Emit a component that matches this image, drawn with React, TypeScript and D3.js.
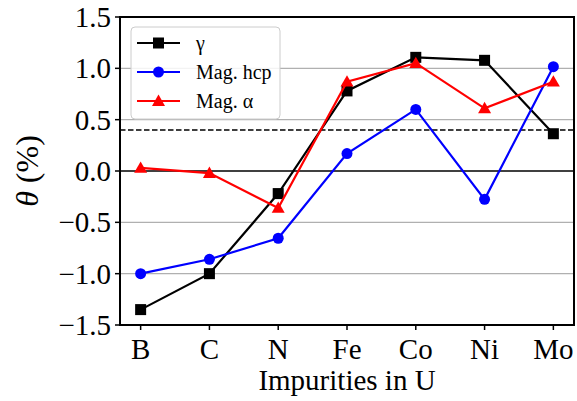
import React from "react";
import * as d3 from "d3";

const categories = ["B", "C", "N", "Fe", "Co", "Ni", "Mo"];
const gammaVals = [-1.35, -1.0, -0.22, 0.78, 1.107, 1.078, 0.363];
const hcpVals = [-1.0, -0.86, -0.655, 0.17, 0.6, -0.276, 1.016];
const alphaVals = [0.03, -0.02, -0.36, 0.87, 1.05, 0.61, 0.87];
const yTicks = [-1.5, -1.0, -0.5, 0.0, 0.5, 1.0, 1.5];
const refLine = 0.4;

const series = [
  { name: "γ", values: gammaVals, color: "#000000", marker: "square" },
  { name: "Mag. hcp", values: hcpVals, color: "#0000ff", marker: "circle" },
  { name: "Mag. α", values: alphaVals, color: "#ff0000", marker: "triangle" },
];

const W = 577;
const H = 401;
const m = { left: 120, right: 3, top: 17, bottom: 76 };
const font = "'Liberation Serif', 'Times New Roman', serif";

const Marker = ({ type, x, y, color }) => {
  if (type === "square") return <rect x={x - 5.5} y={y - 5.5} width={11} height={11} fill={color} />;
  if (type === "circle") return <circle cx={x} cy={y} r={5.5} fill={color} />;
  const s = 6.5;
  return <path d={`M${x},${y - s} L${x + s},${y + s * 0.75} L${x - s},${y + s * 0.75} Z`} fill={color} />;
};

const fmt = (v) => (v < 0 ? "\u2212" : "") + Math.abs(v).toFixed(1);

export default function App() {
  const x = d3.scaleLinear().domain([-0.3, categories.length - 0.7]).range([m.left, W - m.right]);
  const y = d3.scaleLinear().domain([-1.5, 1.5]).range([H - m.bottom, m.top]);
  const x0 = m.left, x1 = W - m.right, y0 = m.top, y1 = H - m.bottom;

  const line = d3.line().x((d, i) => x(i)).y((d) => y(d));

  return (
    <svg width={W} height={H} style={{ position: "absolute", left: 0, top: 0, background: "#fff" }}>
      {/* grid */}
      {yTicks.filter((t) => t !== 0).map((t) => (
        <line key={t} x1={x0} x2={x1} y1={y(t)} y2={y(t)} stroke="#b0b0b0" strokeWidth={1.2} />
      ))}
      <line x1={x0} x2={x1} y1={y(0)} y2={y(0)} stroke="#000" strokeWidth={1.5} />
      <line x1={x0} x2={x1} y1={y(refLine)} y2={y(refLine)} stroke="#000" strokeWidth={1.5} strokeDasharray="5.5,2.5" />

      {series.map((s) => (
        <g key={s.name}>
          <path d={line(s.values)} fill="none" stroke={s.color} strokeWidth={2.2} />
          {s.values.map((v, i) => (
            <Marker key={i} type={s.marker} x={x(i)} y={y(v)} color={s.color} />
          ))}
        </g>
      ))}

      {/* spines */}
      <rect x={x0} y={y0} width={x1 - x0} height={y1 - y0} fill="none" stroke="#000" strokeWidth={2} />

      {/* y ticks */}
      {yTicks.map((t) => (
        <g key={t}>
          <line x1={x0 - 5} x2={x0} y1={y(t)} y2={y(t)} stroke="#000" strokeWidth={1.5} />
          <text x={x0 - 9} y={y(t)} dy="0.34em" textAnchor="end" fontFamily={font} fontSize={29}>{fmt(t)}</text>
        </g>
      ))}
      {/* x ticks */}
      {categories.map((c, i) => (
        <g key={c}>
          <line x1={x(i)} x2={x(i)} y1={y1} y2={y1 + 5} stroke="#000" strokeWidth={1.5} />
          <text x={x(i)} y={y1 + 34} textAnchor="middle" fontFamily={font} fontSize={29}>{c}</text>
        </g>
      ))}

      <text x={(x0 + x1) / 2} y={H - 11} textAnchor="middle" fontFamily={font} fontSize={29}>Impurities in U</text>
      <text transform={`translate(38, ${(y0 + y1) / 2}) rotate(-90)`} textAnchor="middle" fontFamily={font} fontSize={32}>
        <tspan fontStyle="italic">θ</tspan> (%)
      </text>

      {/* legend */}
      <g>
        <rect x={131} y={27} width={149} height={92} rx={4} fill="#fff" fillOpacity={0.85} stroke="#cccccc" strokeWidth={1} />
        {series.map((s, i) => {
          const ly = 43 + i * 29;
          return (
            <g key={s.name}>
              <line x1={137} x2={180} y1={ly} y2={ly} stroke={s.color} strokeWidth={2.2} />
              <Marker type={s.marker} x={158.5} y={ly} color={s.color} />
              <text x={196} y={ly} dy="0.34em" fontFamily={font} fontSize={20}>{s.name}</text>
            </g>
          );
        })}
      </g>
    </svg>
  );
}
